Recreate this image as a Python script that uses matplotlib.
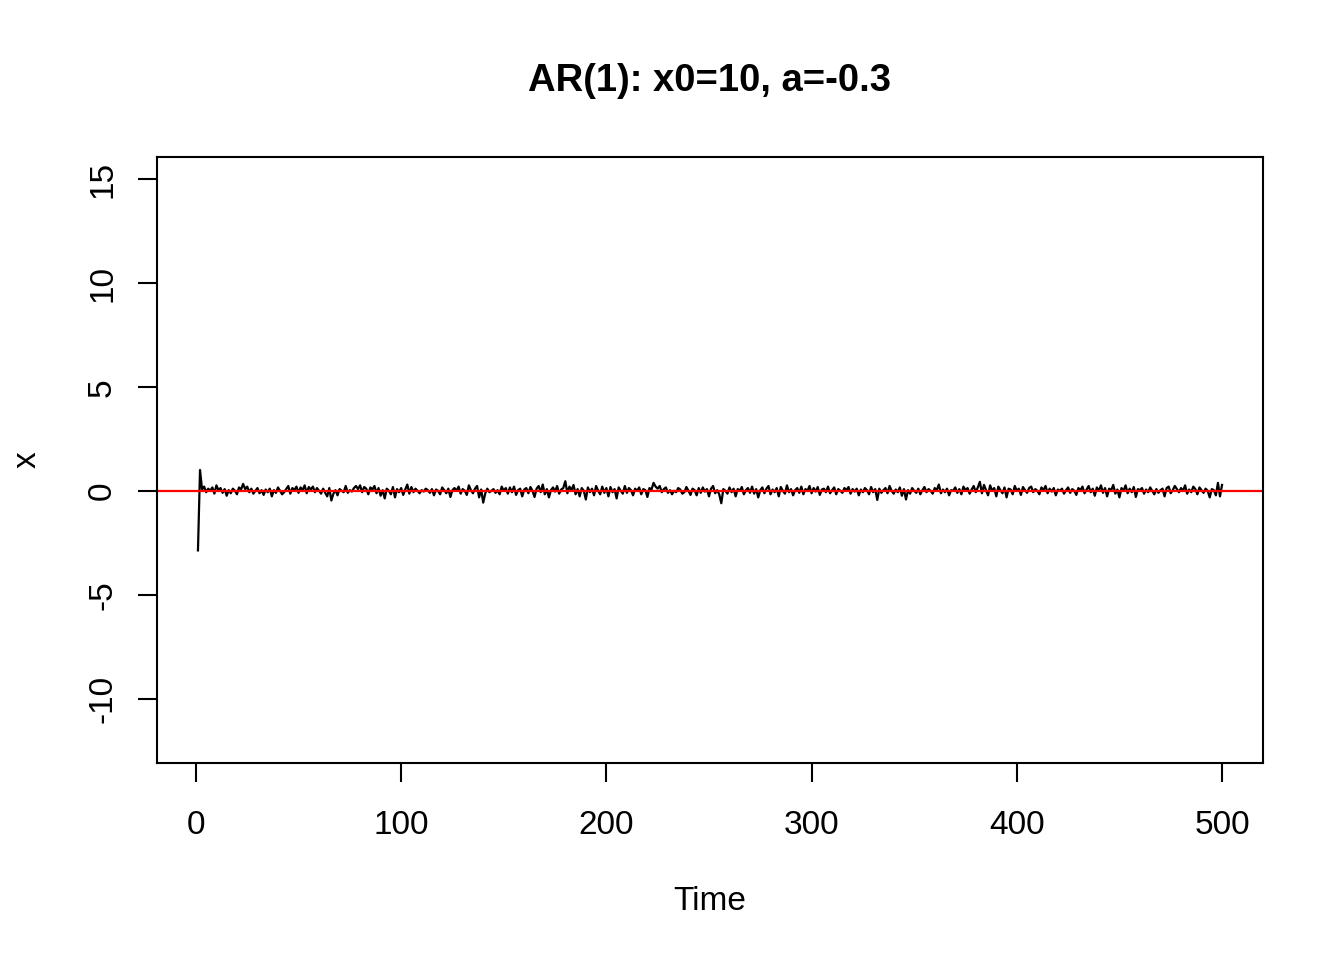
import matplotlib
matplotlib.use("Agg")
import matplotlib.pyplot as plt

# AR(1) series, t = 1..500
x_values = [
    -2.85, 1.02, 0.08, 0.22, -0.05, 0.12, 0.02, 0.18, -0.12, 0.28, 0.05, 0.15, -0.08, 0.10, -0.22, 0.05, -0.10, 0.12, 0.02, -0.15, 0.18, 0.08, 0.35, 0.10, 0.22,
    -0.05, 0.12, -0.12, 0.02, 0.15, -0.10, 0.05, -0.18, 0.08, -0.05, 0.12, -0.25, 0.05, -0.08, 0.18, 0.02, -0.15, -0.05, 0.10, 0.25, -0.12, 0.15, 0.05, 0.22, -0.08,
    0.18, 0.05, 0.28, -0.10, 0.20, 0.08, 0.22, -0.05, 0.15, 0.02, -0.12, 0.12, -0.08, -0.25, 0.15, -0.45, -0.12, 0.05, -0.20, 0.10, 0.02, -0.05, 0.25, -0.08, 0.05,
    -0.02, 0.15, 0.25, 0.10, 0.28, -0.05, 0.20, 0.12, -0.15, 0.18, 0.08, 0.25, -0.10, 0.15, -0.22, 0.05, -0.35, 0.12, 0.02, -0.15, 0.20, -0.30, 0.10, -0.05, 0.15,
    -0.18, 0.08, 0.32, -0.12, 0.20, -0.05, 0.12, 0.02, -0.10, 0.05, -0.02, 0.12, 0.05, -0.08, 0.10, -0.20, 0.08, 0.02, -0.15, 0.18, 0.05, -0.10, 0.12, -0.28, 0.05,
    0.15, 0.02, 0.22, -0.12, 0.10, 0.02, -0.18, 0.28, 0.05, -0.10, 0.12, 0.25, -0.30, 0.08, -0.55, -0.10, 0.12, -0.05, 0.02, 0.10, -0.08, 0.05, -0.15, 0.22, 0.02,
    0.15, -0.12, 0.18, -0.05, 0.22, -0.18, 0.05, 0.12, -0.25, 0.08, 0.15, -0.10, 0.20, 0.02, -0.28, 0.12, 0.25, -0.05, 0.32, -0.15, 0.10, -0.30, 0.05, 0.18, -0.02,
    0.25, -0.12, 0.08, 0.15, 0.48, -0.10, 0.22, 0.05, 0.30, -0.15, 0.10, -0.25, 0.15, 0.02, -0.40, 0.18, -0.05, 0.12, -0.20, 0.25, 0.02, -0.15, 0.22, -0.08, 0.15,
    -0.25, 0.20, -0.05, 0.10, -0.35, 0.18, 0.02, -0.12, 0.25, -0.08, 0.15, 0.05, -0.20, 0.12, 0.02, 0.18, -0.15, 0.10, 0.05, -0.28, 0.15, 0.08, 0.40, 0.22, 0.12,
    0.25, -0.05, 0.10, 0.18, -0.08, 0.05, -0.15, 0.02, -0.05, 0.15, 0.08, -0.12, -0.05, 0.20, 0.02, -0.18, 0.12, 0.05, -0.20, 0.15, -0.08, 0.18, -0.02, 0.10, -0.25,
    0.12, 0.25, -0.10, 0.05, -0.15, -0.58, 0.10, 0.02, -0.12, 0.18, -0.05, 0.12, -0.25, 0.10, 0.02, 0.20, -0.15, 0.05, 0.15, -0.08, 0.22, -0.12, 0.10, -0.30, 0.05,
    0.18, -0.10, 0.12, 0.25, -0.15, 0.08, -0.05, 0.15, -0.25, 0.20, 0.02, -0.12, 0.28, -0.05, 0.10, -0.20, 0.05, 0.15, -0.08, 0.22, -0.15, 0.10, 0.02, 0.25, -0.10,
    0.15, -0.02, 0.20, -0.18, 0.08, 0.12, -0.05, 0.22, -0.10, 0.05, 0.18, -0.15, 0.10, 0.02, -0.08, 0.15, 0.05, 0.20, -0.12, 0.10, -0.02, 0.12, -0.20, 0.08, -0.05,
    0.15, 0.05, -0.15, 0.20, -0.05, 0.10, -0.42, 0.12, -0.08, 0.05, 0.15, -0.10, 0.25, 0.02, -0.12, 0.08, -0.05, 0.18, -0.22, 0.10, -0.40, 0.05, -0.12, 0.15, 0.02,
    -0.08, 0.12, -0.15, 0.05, 0.20, -0.05, 0.10, 0.02, -0.12, 0.15, 0.05, 0.32, -0.10, 0.08, -0.05, 0.12, -0.20, 0.05, 0.02, 0.18, -0.08, 0.10, -0.15, 0.22, 0.05,
    0.15, -0.12, 0.08, 0.25, -0.05, 0.18, 0.45, -0.10, 0.30, 0.05, -0.20, 0.28, 0.02, 0.15, -0.25, 0.22, 0.05, -0.10, 0.18, -0.30, 0.12, 0.08, -0.15, 0.25, 0.02,
    0.12, -0.18, 0.20, 0.05, -0.08, 0.15, 0.22, -0.05, 0.10, 0.02, -0.15, 0.18, 0.05, 0.25, -0.10, 0.12, -0.02, 0.15, -0.20, 0.08, 0.02, 0.12, -0.12, 0.05, 0.18,
    -0.08, 0.10, 0.02, -0.18, 0.15, 0.05, 0.22, -0.10, 0.08, 0.25, -0.05, 0.12, -0.22, 0.18, 0.02, 0.28, -0.08, 0.15, -0.25, 0.12, 0.05, 0.30, -0.12, 0.08, -0.30,
    0.15, 0.02, 0.28, -0.10, 0.12, -0.05, 0.20, -0.28, 0.10, 0.05, 0.15, -0.12, 0.08, -0.05, 0.18, 0.02, -0.15, 0.10, -0.08, 0.05, 0.12, -0.25, 0.15, 0.22, -0.10,
    0.05, 0.25, 0.10, -0.05, 0.15, 0.02, 0.28, -0.12, 0.08, -0.05, 0.22, 0.10, -0.15, 0.18, 0.05, -0.08, 0.12, 0.02, -0.30, 0.10, 0.05, -0.20, 0.40, -0.25, 0.30,
]
time = list(range(1, len(x_values) + 1))

x_ticks = [0, 100, 200, 300, 400, 500]
y_ticks = [-10, -5, 0, 5, 10, 15]
y_lim = (-12, 15)

plt.rcParams['font.family'] = ['Liberation Sans', 'DejaVu Sans']

fig = plt.figure(figsize=(13.44, 9.6), dpi=100)
ax = fig.add_axes([157 / 1344, 1 - 763 / 960, (1263 - 157) / 1344, (763 - 157) / 960])

ax.plot(time, x_values, color='black', linewidth=1.6)
ax.axhline(0, color='red', linewidth=1.6)

# R-style 4% padding around the data range
xr = time[-1] - time[0]
ax.set_xlim(time[0] - 0.04 * xr, time[-1] + 0.04 * xr)
yr = y_lim[1] - y_lim[0]
ax.set_ylim(y_lim[0] - 0.04 * yr, y_lim[1] + 0.04 * yr)

ax.set_xticks(x_ticks)
ax.set_yticks(y_ticks)
ax.set_xticklabels([str(t) for t in x_ticks])
ax.set_yticklabels([str(t) for t in y_ticks], rotation=90, va='center')
ax.tick_params(axis='both', length=14, width=1.5, labelsize=24, direction='out')
ax.tick_params(axis='x', pad=20)
ax.tick_params(axis='y', pad=14)
for s in ax.spines.values():
    s.set_linewidth(1.5)

fig.text(0.5 * (157 + 1263) / 1344, 1 - 81 / 960, 'AR(1): x0=10, a=-0.3',
         ha='center', va='center', fontsize=27.5, fontweight='bold')
fig.text(0.5 * (157 + 1263) / 1344, 1 - 902 / 960, 'Time', ha='center', va='center', fontsize=24)
fig.text(27 / 1344, 1 - 460 / 960, 'x', ha='center', va='center', fontsize=24, rotation=90)

fig.savefig('out.png', dpi=100)
